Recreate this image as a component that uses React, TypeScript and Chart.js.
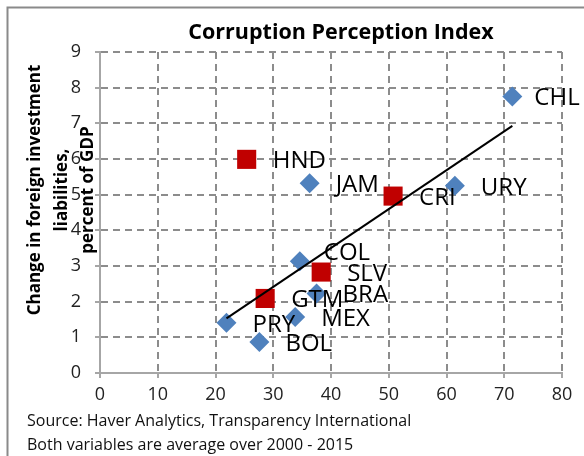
import React, { useEffect, useRef } from "react";
import { Chart, registerables } from "chart.js";

Chart.register(...registerables);

// ---- data ----
const blueCountries = ["CHL", "URY", "JAM", "COL", "BRA", "MEX", "PRY", "BOL"];
const blueCPI = [71.4, 61.45, 36.3, 34.6, 37.5, 33.8, 21.9, 27.6];
const blueFDI = [7.75, 5.25, 5.32, 3.13, 2.23, 1.57, 1.41, 0.87];

const redCountries = ["HND", "CRI", "SLV", "GTM"];
const redCPI = [25.4, 50.75, 38.3, 28.6];
const redFDI = [5.99, 4.96, 2.83, 2.09];

const trendCPI = [21.9, 71.4];
const trendFDI = [1.53, 6.93];

const xTickValues = [0, 10, 20, 30, 40, 50, 60, 70, 80];
const yTickValues = [0, 1, 2, 3, 4, 5, 6, 7, 8, 9];

const titleText = "Corruption Perception Index";
const yTitleLines = ["Change in foreign investment", "liabilities,", "percent of GDP"];
const footerLines = [
  "Source: Haver Analytics, Transparency International",
  "Both variables are average over 2000 - 2015",
];

// ---- styling ----
const FONT = "'Open Sans', sans-serif";
const BLUE = "#4F81BD";
const RED = "#C00000";
const GRID = "#8c8c8c";
const AXIS = "#a6a6a6";

const LABEL_OFFSETS: Record<string, [number, number]> = {
  CHL: [22, 2],
  COL: [24, -8],
};
const DEFAULT_OFFSET: [number, number] = [26, 2];

const overlayPlugin = {
  id: "overlay",
  beforeDraw(chart: any) {
    const ctx = chart.ctx as CanvasRenderingContext2D;
    ctx.save();
    ctx.fillStyle = "#ffffff";
    ctx.fillRect(0, 0, chart.width, chart.height);
    ctx.strokeStyle = "#8a8a8a";
    ctx.lineWidth = 2;
    ctx.strokeRect(7.5, 7.5, 800, 800);
    ctx.restore();
  },
  afterDatasetsDraw(chart: any) {
    const ctx = chart.ctx as CanvasRenderingContext2D;
    ctx.save();
    ctx.font = `24px ${FONT}`;
    ctx.fillStyle = "#000";
    ctx.textAlign = "left";
    ctx.textBaseline = "middle";
    chart.data.datasets.forEach((ds: any, di: number) => {
      if (!ds.pointLabels) return;
      const meta = chart.getDatasetMeta(di);
      meta.data.forEach((pt: any, i: number) => {
        const name = ds.pointLabels[i];
        const [dx, dy] = LABEL_OFFSETS[name] || DEFAULT_OFFSET;
        ctx.fillText(name, pt.x + dx, pt.y + dy);
      });
    });
    ctx.restore();
  },
  afterDraw(chart: any) {
    const ctx = chart.ctx as CanvasRenderingContext2D;
    ctx.save();
    // title
    ctx.fillStyle = "#000";
    ctx.font = `bold 21.5px ${FONT}`;
    ctx.textAlign = "center";
    ctx.textBaseline = "middle";
    ctx.fillText(titleText, 341, 33);
    // y axis title
    ctx.font = `bold 17px ${FONT}`;
    const xs = [35, 62, 88];
    yTitleLines.forEach((line, i) => {
      ctx.save();
      ctx.translate(xs[i], 190);
      ctx.rotate(-Math.PI / 2);
      ctx.fillText(line, 0, 0);
      ctx.restore();
    });
    // footer
    ctx.font = `16px ${FONT}`;
    ctx.textAlign = "left";
    ctx.fillStyle = "#111";
    ctx.fillText(footerLines[0], 27, 421);
    ctx.fillText(footerLines[1], 27, 445);
    ctx.restore();
  },
};

export default function App() {
  const ref = useRef<HTMLCanvasElement | null>(null);
  useEffect(() => {
    if (!ref.current) return;
    const chart = new Chart(ref.current, {
      type: "scatter",
      data: {
        datasets: [
          {
            type: "line",
            label: "trend",
            data: trendCPI.map((x, i) => ({ x, y: trendFDI[i] })),
            borderColor: "#000",
            borderWidth: 2,
            pointRadius: 0,
            showLine: true,
            fill: false,
            order: 0,
          } as any,
          {
            label: "blue",
            data: blueCPI.map((x, i) => ({ x, y: blueFDI[i] })),
            pointStyle: "rectRot",
            pointRadius: 10,
            backgroundColor: BLUE,
            borderColor: BLUE,
            borderWidth: 0,
            pointLabels: blueCountries,
            order: 2,
          } as any,
          {
            label: "red",
            data: redCPI.map((x, i) => ({ x, y: redFDI[i] })),
            pointStyle: "rect",
            pointRadius: 13.5,
            backgroundColor: RED,
            borderColor: RED,
            borderWidth: 0,
            pointLabels: redCountries,
            order: 1,
          } as any,
        ],
      },
      options: {
        responsive: false,
        animation: false,
        devicePixelRatio: 1,
        layout: { padding: { left: 70, right: 22, top: 52, bottom: 43 } },
        plugins: {
          legend: { display: false },
          tooltip: { enabled: false },
          title: { display: false },
        },
        scales: {
          x: {
            type: "linear",
            min: 0,
            max: 80,
            afterBuildTicks: (scale: any) => {
              scale.ticks = xTickValues.map((v) => ({ value: v }));
            },
            afterFit: (scale: any) => {
              scale.height = 40;
            },
            ticks: {
              color: "#222",
              font: { family: FONT, size: 18 },
              padding: 6,
              maxRotation: 0,
            },
            grid: {
              color: GRID,
              lineWidth: 2,
              tickLength: 5,
              tickColor: AXIS,
              tickWidth: 2,
            },
            border: { display: true, color: AXIS, width: 2, dash: [7, 5] },
          },
          y: {
            type: "linear",
            min: 0,
            max: 9,
            afterBuildTicks: (scale: any) => {
              scale.ticks = yTickValues.map((v) => ({ value: v }));
            },
            afterFit: (scale: any) => {
              scale.width = 30;
            },
            ticks: {
              color: "#222",
              font: { family: FONT, size: 18 },
              padding: 14,
            },
            grid: {
              color: GRID,
              lineWidth: 2,
              tickLength: 5,
              tickColor: AXIS,
              tickWidth: 2,
            },
            border: { display: true, color: AXIS, width: 2, dash: [7, 5] },
          },
        },
      },
      plugins: [overlayPlugin],
    } as any);
    return () => chart.destroy();
  }, []);

  return (
    <div style={{ position: "absolute", left: 0, top: 0, width: 584, height: 456 }}>
      <canvas ref={ref} width={584} height={456} style={{ display: "block" }} />
    </div>
  );
}
